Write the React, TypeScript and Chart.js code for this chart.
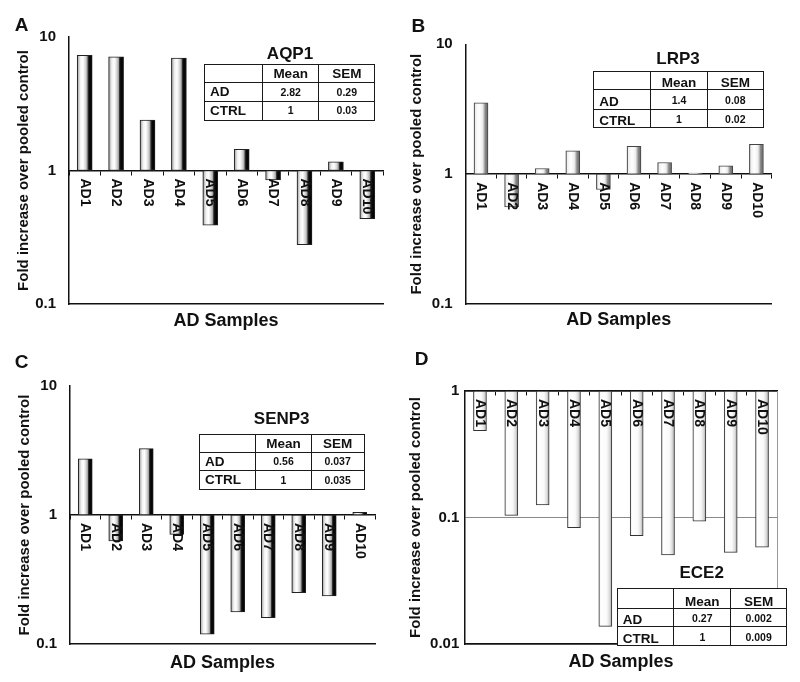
import React, { useEffect, useRef } from 'react';
import { Chart, registerables } from 'chart.js';

Chart.register(...registerables);

const FONT = "'Liberation Sans', Arial, Helvetica, sans-serif";

// ---------- data ----------
const categories = ['AD1', 'AD2', 'AD3', 'AD4', 'AD5', 'AD6', 'AD7', 'AD8', 'AD9', 'AD10'];
const aqp1Values = [7.3, 7.1, 2.39, 6.95, 0.39, 1.44, 0.85, 0.278, 1.16, 0.435];
const lrp3Values = [3.54, 0.56, 1.105, 1.51, 0.762, 1.64, 1.23, 1.02, 1.16, 1.7];
const senp3Values = [2.73, 0.629, 3.27, 0.708, 0.119, 0.177, 0.16, 0.25, 0.236, 1.05];
const ece2Values = [0.486, 0.104, 0.126, 0.083, 0.0138, 0.0717, 0.0507, 0.0935, 0.053, 0.0583];

const yTicksHigh = [0.1, 1, 10];
const yTicksLow = [0.01, 0.1, 1];

const statHeaders = ['Mean', 'SEM'];
const statRows = ['AD', 'CTRL'];
const aqp1Mean = ['2.82', '1'];
const aqp1Sem = ['0.29', '0.03'];
const lrp3Mean = ['1.4', '1'];
const lrp3Sem = ['0.08', '0.02'];
const senp3Mean = ['0.56', '1'];
const senp3Sem = ['0.037', '0.035'];
const ece2Mean = ['0.27', '1'];
const ece2Sem = ['0.002', '0.009'];

const yTitle = 'Fold increase over pooled control';
const xTitle = 'AD Samples';

// ---------- styles ----------
const barStyles: Record<string, { stops: [number, string][]; border: string }> = {
  dark: {
    stops: [
      [0, '#4a4a4a'], [0.08, '#bcbcbc'], [0.22, '#f2f2f2'], [0.38, '#ffffff'],
      [0.55, '#d6d6d6'], [0.66, '#a8a8a8'], [0.72, '#3a3a3a'], [0.8, '#0a0a0a'], [1, '#000000'],
    ],
    border: '#222',
  },
  light: {
    stops: [
      [0, '#777'], [0.1, '#eeeeee'], [0.35, '#ffffff'], [0.6, '#f0f0f0'],
      [0.72, '#bbbbbb'], [0.8, '#888888'], [1, '#666666'],
    ],
    border: '#444',
  },
  white: {
    stops: [[0, '#dddddd'], [0.15, '#ffffff'], [0.6, '#fafafa'], [0.8, '#e0e0e0'], [1, '#aaaaaa']],
    border: '#333',
  },
};

type Panel = {
  key: string;
  letter: string;
  left: number;
  top: number;
  values: number[];
  yMin: number;
  yMax: number;
  yTicks: number[];
  plot: { l: number; r: number; t: number; b: number };
  titleX: number;
  samplesY: number;
  barW: number;
  style: string;
  grid: boolean;
};

const W = 400;
const H = 341;

const panels: Panel[] = [
  { key: 'A', letter: 'A', left: 0, top: 0, values: aqp1Values, yMin: 0.1, yMax: 10, yTicks: yTicksHigh,
    plot: { l: 69, r: 383, t: 37, b: 304 }, titleX: 24, samplesY: 321, barW: 15, style: 'dark', grid: false },
  { key: 'B', letter: 'B', left: 400, top: 0, values: lrp3Values, yMin: 0.1, yMax: 10, yTicks: yTicksHigh,
    plot: { l: 65.7, r: 371.7, t: 44.3, b: 304 }, titleX: 17.3, samplesY: 320, barW: 14, style: 'light', grid: false },
  { key: 'C', letter: 'C', left: 0, top: 341, values: senp3Values, yMin: 0.1, yMax: 10, yTicks: yTicksHigh,
    plot: { l: 70, r: 375, t: 45, b: 303 }, titleX: 25, samplesY: 321.7, barW: 14, style: 'dark', grid: false },
  { key: 'D', letter: 'D', left: 400, top: 341, values: ece2Values, yMin: 0.01, yMax: 1, yTicks: yTicksLow,
    plot: { l: 64.3, r: 385.7, t: 50, b: 303 }, titleX: 15.7, samplesY: 320.7, barW: 13, style: 'white', grid: true },
];

const xLabelPlugin = {
  id: 'rotatedXLabels',
  afterDatasetsDraw(chart: any) {
    const { ctx, scales } = chart;
    const xs = scales.x;
    const ys = scales.y;
    const base = ys.getPixelForValue(1);
    ctx.save();
    ctx.font = `bold 14px ${FONT}`;
    ctx.fillStyle = '#111';
    ctx.textAlign = 'left';
    ctx.textBaseline = 'middle';
    (chart.data.labels as string[]).forEach((lab, i) => {
      const px = xs.getPixelForValue(i);
      ctx.save();
      ctx.translate(px, base + 8);
      ctx.rotate(Math.PI / 2);
      ctx.fillText(lab, 0, 0);
      ctx.restore();
    });
    ctx.restore();
  },
};

function PanelChart({ panel }: { panel: Panel }) {
  const ref = useRef<HTMLCanvasElement>(null);
  useEffect(() => {
    const canvas = ref.current;
    if (!canvas) return;
    const st = barStyles[panel.style];
    const bw = panel.barW;
    const scales: any = {
      x: {
        type: 'category',
        position: { y: 1 },
        offset: true,
        ticks: { display: false },
        grid: { display: true, drawOnChartArea: false, drawTicks: true, tickLength: 4, color: '#111', lineWidth: 1, offset: true },
        border: { display: true, color: '#111', width: 1.5 },
      },
      x2: {
        type: 'category',
        position: 'bottom',
        offset: true,
        ticks: { display: false },
        grid: { display: false },
        border: { display: true, color: '#111', width: 1.5 },
        title: {
          display: true,
          text: xTitle,
          color: '#111',
          font: { family: FONT, size: 18, weight: 'bold' },
          padding: { top: 0, bottom: H - panel.samplesY - 10.8 },
        },
        afterFit: (s: any) => { s.height = H - panel.plot.b; },
      },
      y: {
        type: 'logarithmic',
        position: 'left',
        min: panel.yMin,
        max: panel.yMax,
        afterBuildTicks: (s: any) => { s.ticks = panel.yTicks.map((v) => ({ value: v })); },
        afterFit: (s: any) => { s.width = panel.plot.l; },
        ticks: {
          callback: (v: any) => String(v),
          color: '#111',
          padding: 5,
          font: { family: FONT, size: 15, weight: 'bold' },
        },
        grid: panel.grid
          ? { display: true, drawTicks: false, color: '#8a8a8a', lineWidth: 1 }
          : { display: false },
        border: { display: true, color: '#111', width: 1.5 },
        title: {
          display: true,
          text: yTitle,
          color: '#111',
          font: { family: FONT, size: 15, weight: 'bold' },
          padding: { top: panel.titleX - 9, bottom: 0 },
        },
      },
    };
    if (panel.grid) {
      scales.y2 = {
        type: 'linear',
        position: 'right',
        min: 0,
        max: 1,
        ticks: { display: false },
        grid: { display: false },
        border: { display: true, color: '#999', width: 1 },
      };
    }
    const chart = new Chart(canvas, {
      type: 'bar',
      data: {
        labels: categories,
        datasets: [
          {
            data: panel.values.map((v) => [1, v]) as any,
            barThickness: bw,
            borderWidth: 1,
            borderColor: st.border,
            borderSkipped: false,
            backgroundColor: (ctx: any) => {
              const xs = ctx.chart.scales.x;
              if (!xs || ctx.dataIndex === undefined) return '#dddddd';
              const cx = xs.getPixelForValue(ctx.dataIndex);
              if (!isFinite(cx)) return '#dddddd';
              const g = ctx.chart.ctx.createLinearGradient(cx - bw / 2, 0, cx + bw / 2, 0);
              st.stops.forEach(([o, c]) => g.addColorStop(o, c));
              return g;
            },
          },
        ],
      },
      options: {
        responsive: false,
        animation: false,
        devicePixelRatio: 1,
        layout: { padding: { left: 0, top: panel.plot.t, right: W - panel.plot.r, bottom: 0 } },
        plugins: { legend: { display: false }, tooltip: { enabled: false }, title: { display: false } },
        scales,
      } as any,
      plugins: [xLabelPlugin],
    });
    return () => chart.destroy();
  }, [panel]);
  return (
    <canvas
      ref={ref}
      width={W}
      height={H}
      style={{ position: 'absolute', left: panel.left, top: panel.top, width: W, height: H }}
    />
  );
}

type TableSpec = {
  title: string;
  titleX: number;
  titleY: number;
  x: number;
  y: number;
  cols: number[];
  rows: number[];
  mean: string[];
  sem: string[];
  bottomAlign: boolean;
};

const tables: TableSpec[] = [
  { title: 'AQP1', titleX: 290, titleY: 53, x: 204, y: 64, cols: [57.7, 56.6, 55.7], rows: [18.3, 18.4, 18.6],
    mean: aqp1Mean, sem: aqp1Sem, bottomAlign: false },
  { title: 'LRP3', titleX: 678, titleY: 58, x: 593.3, y: 70.7, cols: [56.7, 56.7, 56], rows: [18.6, 19.4, 18.3],
    mean: lrp3Mean, sem: lrp3Sem, bottomAlign: true },
  { title: 'SENP3', titleX: 281.7, titleY: 418.3, x: 199, y: 434.3, cols: [56, 55.7, 52.6], rows: [17.4, 18.3, 18.3],
    mean: senp3Mean, sem: senp3Sem, bottomAlign: false },
  { title: 'ECE2', titleX: 701.7, titleY: 572, x: 616.7, y: 588.3, cols: [56.6, 56.7, 56], rows: [20, 17.7, 19],
    mean: ece2Mean, sem: ece2Sem, bottomAlign: true },
];

function StatTable({ t }: { t: TableSpec }) {
  const cells: React.ReactNode[] = [];
  const colX = [0, t.cols[0], t.cols[0] + t.cols[1]];
  const rowY = [0, t.rows[0], t.rows[0] + t.rows[1]];
  const grid: string[][] = [
    ['', statHeaders[0], statHeaders[1]],
    [statRows[0], t.mean[0], t.sem[0]],
    [statRows[1], t.mean[1], t.sem[1]],
  ];
  for (let r = 0; r < 3; r++) {
    for (let c = 0; c < 3; c++) {
      const isValue = r > 0 && c > 0;
      const isLabel = c === 0;
      cells.push(
        <div
          key={`${r}-${c}`}
          style={{
            position: 'absolute',
            left: t.x + colX[c],
            top: t.y + rowY[r],
            width: t.cols[c] + 1.3,
            height: t.rows[r] + 1.3,
            boxSizing: 'border-box',
            border: '1.3px solid #1a1a1a',
            background: '#fff',
            display: 'flex',
            alignItems: t.bottomAlign ? 'flex-end' : 'center',
            justifyContent: isLabel ? 'flex-start' : 'center',
            paddingLeft: isLabel ? 5 : 0,
            paddingBottom: t.bottomAlign ? (isValue ? 3 : 0) : 0,
            fontFamily: FONT,
            fontWeight: 'bold',
            fontSize: isValue ? 10.5 : 13.5,
            lineHeight: 1,
            color: '#111',
            whiteSpace: 'nowrap',
          }}
        >
          {grid[r][c]}
        </div>
      );
    }
  }
  return (
    <>
      <div
        style={{
          position: 'absolute',
          left: t.titleX,
          top: t.titleY,
          transform: 'translate(-50%, -50%)',
          fontFamily: FONT,
          fontWeight: 'bold',
          fontSize: 17,
          color: '#111',
          whiteSpace: 'nowrap',
          lineHeight: 1,
        }}
      >
        {t.title}
      </div>
      {cells}
    </>
  );
}

const letterPos = [
  { letter: 'A', x: 21.7, y: 24 },
  { letter: 'B', x: 418.3, y: 25 },
  { letter: 'C', x: 21.7, y: 360.7 },
  { letter: 'D', x: 421.7, y: 358.3 },
];

export default function App() {
  return (
    <div
      style={{
        position: 'absolute',
        left: 0,
        top: 0,
        width: 800,
        height: 682,
        background: '#fff',
        overflow: 'hidden',
      }}
    >
      {panels.map((p) => (
        <PanelChart key={p.key} panel={p} />
      ))}
      {tables.map((t) => (
        <StatTable key={t.title} t={t} />
      ))}
      {letterPos.map((l) => (
        <div
          key={l.letter}
          style={{
            position: 'absolute',
            left: l.x,
            top: l.y,
            transform: 'translate(-50%, -50%)',
            fontFamily: FONT,
            fontWeight: 'bold',
            fontSize: 19,
            lineHeight: 1,
            color: '#111',
          }}
        >
          {l.letter}
        </div>
      ))}
    </div>
  );
}
